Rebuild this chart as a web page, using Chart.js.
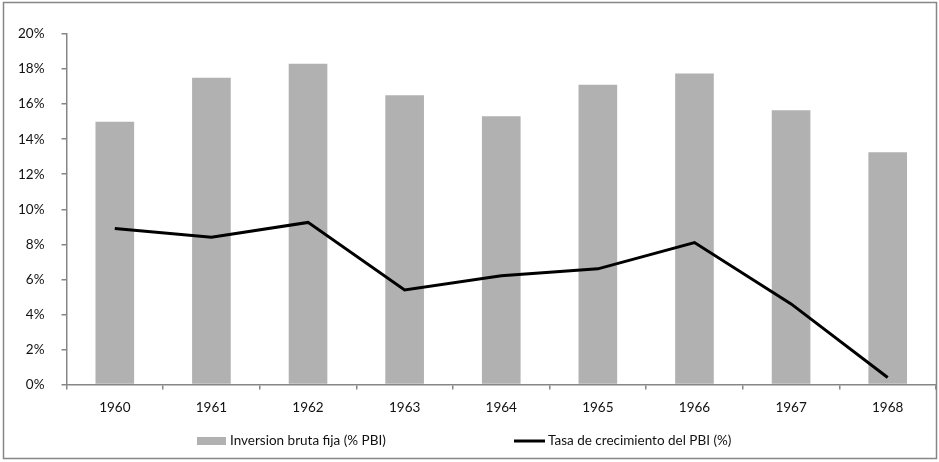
<!DOCTYPE html>
<html>
<head>
<meta charset="utf-8">
<script src="https://cdn.jsdelivr.net/npm/chart.js@4.4.1/dist/chart.umd.min.js"></script>
<style>
  html, body { margin:0; padding:0; background:#fff; }
  #wrap { width:939px; height:462px; position:relative; }
</style>
</head>
<body>
<div id="wrap"><canvas id="chart" width="939" height="462"></canvas></div>
<script>
// data
const years = ['1960','1961','1962','1963','1964','1965','1966','1967','1968'];
const inversion = [15.0, 17.5, 18.3, 16.5, 15.3, 17.1, 17.75, 15.65, 13.25];
const crecimiento = [8.9, 8.4, 9.25, 5.4, 6.2, 6.6, 8.1, 4.6, 0.4];
const yTicks = [0, 2, 4, 6, 8, 10, 12, 14, 16, 18, 20];

const FONT = 'Lato, "Open Sans", sans-serif';
const AXIS = '#868686';
const TXT = '#111';

// chart area frame + legend drawn by hand (Excel style)
const excelFrame = {
  id: 'excelFrame',
  afterDraw(chart){
    const ctx = chart.ctx;
    ctx.save();
    ctx.strokeStyle = AXIS;
    ctx.lineWidth = 1.5;
    ctx.strokeRect(3.5, 2.5, 933, 456);

    // legend
    const y = 441;
    ctx.font = '13.5px ' + FONT;
    ctx.textBaseline = 'middle';
    ctx.textAlign = 'left';
    const ds = chart.data.datasets;
    ctx.fillStyle = ds[0].backgroundColor;
    ctx.fillRect(197, y - 4, 29, 8);
    ctx.fillStyle = TXT;
    ctx.fillText(ds[0].label, 230, y);
    ctx.strokeStyle = ds[1].borderColor;
    ctx.lineWidth = 3;
    ctx.beginPath();
    ctx.moveTo(514, y); ctx.lineTo(545, y);
    ctx.stroke();
    ctx.fillText(ds[1].label, 548, y);
    ctx.restore();
  }
};

const ctx = document.getElementById('chart').getContext('2d');
new Chart(ctx, {
  data: {
    labels: years,
    datasets: [
      { type:'bar', label:'Inversion bruta fija (% PBI)', data: inversion,
        backgroundColor:'#b1b1b1', categoryPercentage:1, barPercentage:0.4, order:1 },
      { type:'line', label:'Tasa de crecimiento del PBI (%)', data: crecimiento,
        borderColor:'#000', borderWidth:3, pointRadius:0, tension:0, order:0 }
    ]
  },
  options: {
    responsive:false,
    animation:false,
    layout:{ padding:{ top:34, right:3, left:0, bottom:0 } },
    plugins:{ legend:{ display:false }, tooltip:{ enabled:false } },
    scales:{
      x:{
        offset:true,
        grid:{ offset:true, drawOnChartArea:false, color:AXIS, tickLength:5, lineWidth:1.5 },
        border:{ color:AXIS, width:1.5 },
        ticks:{ color:TXT, font:{ family:FONT, size:13.5 }, padding:10, maxRotation:0 },
        afterFit(s){ s.height = 462 - 384.5; }
      },
      y:{
        min:0, max:20,
        afterBuildTicks(s){ s.ticks = yTicks.map(v => ({ value:v })); },
        grid:{ drawOnChartArea:false, color:AXIS, tickLength:5, lineWidth:1.5 },
        border:{ color:AXIS, width:1.5 },
        ticks:{ color:TXT, font:{ family:FONT, size:13.5 }, padding:17,
          callback: v => v + '%' },
        afterFit(s){ s.width = 66.5; }
      }
    }
  },
  plugins:[excelFrame]
});
</script>
</body>
</html>
